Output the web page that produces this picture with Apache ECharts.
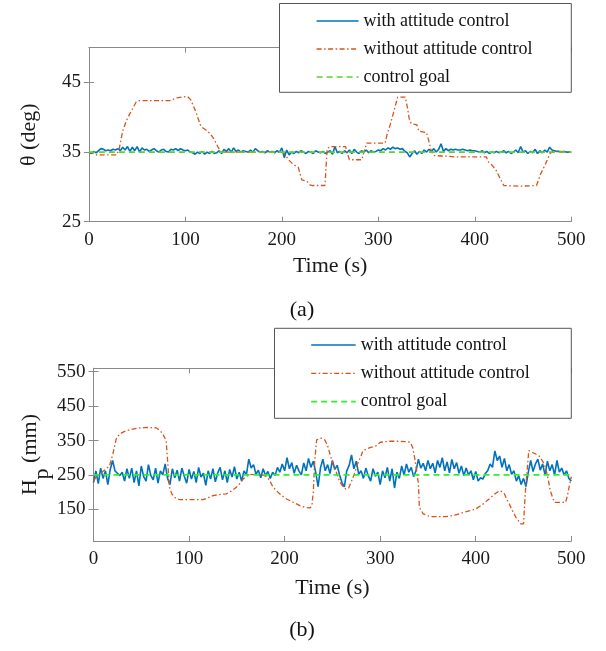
<!DOCTYPE html>
<html>
<head>
<meta charset="utf-8">
<script src="https://cdn.jsdelivr.net/npm/echarts@6/dist/echarts.min.js"></script>
<style>html,body{margin:0;padding:0;background:#fff}#c{width:606px;height:651px}</style>
</head>
<body>
<div id="c"></div>
<script>
// ---------- data ----------
const timeTicks = [0, 100, 200, 300, 400, 500];
const thetaTicks = [25, 35, 45];
const hpTicks = [150, 250, 350, 450, 550];
const legendNames = ['with attitude control', 'without attitude control', 'control goal'];
const thetaGoal = 35;
const hpGoal = 250;
const sampleStep = 2.5; // s, sampling of the "with attitude control" traces

// theta (deg), with attitude control, one value every 2.5 s from 0 to 500
const thetaWith = [
35.0,34.8,35.1,34.9,35.2,35.5,35.4,35.2,35.3,35.2,35.4,35.3,35.5,35.2,35.7,35.3,35.8,35.1,35.7,35.2,
35.8,35.0,35.6,35.3,35.4,35.1,35.3,35.5,35.2,35.0,35.3,35.4,35.1,35.0,35.4,35.3,35.5,35.2,35.5,35.3,
35.2,35.3,35.0,34.9,34.7,35.0,34.8,35.1,34.7,35.0,34.8,35.1,34.8,34.9,35.2,34.8,35.4,35.1,35.5,35.0,
35.6,35.1,35.3,35.0,35.2,35.1,35.0,35.3,35.0,35.5,35.2,35.0,35.1,34.9,35.2,35.0,35.1,34.9,35.2,35.0,
35.6,34.2,35.3,34.6,35.0,34.8,35.1,34.9,35.2,35.0,34.8,35.1,35.0,34.8,35.2,35.0,34.9,35.1,34.8,35.0,
35.2,34.7,35.8,34.9,35.1,34.8,35.2,34.9,35.3,34.8,35.4,35.0,34.8,35.2,35.0,35.3,34.9,35.2,35.0,35.1,
35.3,35.2,35.5,35.3,35.6,35.4,35.7,35.5,35.6,35.4,35.5,35.1,34.9,34.3,34.8,35.2,34.7,35.1,34.8,35.3,
35.0,35.4,35.1,35.5,35.0,35.4,36.2,35.1,35.5,35.2,35.4,35.3,35.4,35.3,35.3,35.4,35.3,35.2,35.3,35.2,
35.2,35.1,35.0,35.2,34.9,35.1,34.8,35.0,34.9,35.1,34.9,35.0,35.2,34.9,35.1,34.8,35.0,35.3,34.9,35.8,
35.0,35.2,34.8,35.1,34.9,35.4,34.8,35.2,34.9,35.3,35.0,35.7,35.3,35.2,35.1,35.1,35.0,35.1,35.0,35.0,
35.0
];

// theta (deg), without attitude control
const thetaWithoutT = [0,3,6,9.7,12,28.8,31.6,35,38.5,42,45.5,49,52,84,91,102,105.6,110.8,116,121,126,130,133.5,137,170,201.5,207,212,217,220.6,226,229,232,244.7,245.8,247,250,266,268,270,283,285,288,307,309,312,316,320,322,328,330,332,334,340,342,350,352,354,356,358,372,380,412,414,418,422,427,430,446,464,468,473,478,481,490,500];
const thetaWithoutV = [35.0,34.9,34.7,34.5,34.6,34.6,35.6,38.0,39.4,40.4,41.3,42.2,42.4,42.4,42.8,43.0,42.5,40.8,38.7,38.2,37.6,36.8,35.8,35.0,35.0,35.0,33.9,33.2,32.8,31.0,30.8,30.3,30.2,30.2,32.9,35.5,35.8,35.8,34.8,33.9,33.9,35.0,36.3,36.3,37.5,38.8,40.8,42.9,43.0,42.9,41.5,39.8,39.1,38.9,38.0,37.8,36.8,35.6,34.8,34.5,34.4,34.3,34.3,33.6,33.1,32.4,31.0,30.2,30.1,30.2,31.8,33.2,34.8,35.1,35.1,35.0];

// Hp (mm), with attitude control, one value every 2.5 s from 0 to 500
const hpWith = [
228,262,225,270,240,262,222,266,292,262,255,248,258,232,268,240,270,228,262,218,
276,245,232,280,248,236,270,226,262,250,282,240,222,268,242,264,232,270,246,226,
266,238,260,228,272,244,255,220,262,238,268,230,256,272,236,262,228,266,244,274,
238,258,232,262,250,296,270,280,252,264,242,268,248,260,240,258,248,272,258,282,
262,300,268,286,255,278,262,250,285,262,298,272,290,258,216,270,296,262,280,254,
292,266,278,250,228,215,262,278,308,268,290,252,262,240,270,248,232,268,246,258,
222,262,242,272,232,268,212,258,240,276,250,282,258,272,245,262,296,270,284,262,
292,268,284,256,292,272,300,262,288,256,295,268,286,255,276,248,270,250,262,236,
260,232,242,238,254,262,282,272,320,292,305,272,298,262,280,252,262,232,248,222,
240,216,258,292,260,282,296,264,282,250,290,262,280,250,292,258,270,250,262,240,
232
];

// Hp (mm), without attitude control
const hpWithoutT = [0,3,6.6,12,16.8,20.3,23.8,27.3,32,37.7,48.2,58,65.6,70,72.5,76,77.8,79.5,82,84.8,90,114.5,120,125,132,139,144,149.5,153,156.5,160,164,172,178,182,185,188,193,197,202,208,216,221,226.5,228.5,230,231.5,233.5,238,242,245,248,251,254.5,257,260,264,267,270,273,276,280,282,290,296,300,310,318,326,331.5,334,336,338,340,341,345,352,369,378,387,394,400,407,414,420,425,428,430,432,435,438,442,447,450,452,454,455.5,459,466,470,473,476,478,481,483,494,496,497.6,500];
const hpWithoutV = [232,245,253,265,277,311,355,369,376,381,387,388,387,378,369,350,282,214,195,185,178,178,184,190,193,195,203,214,225,238,246,251,252,249,243,230,214,200,190,180,172,161,156,154,160,200,290,352,357,352,335,305,280,255,235,220,209,212,232,253,280,306,321,330,335,345,348,348,347,345,330,301,265,224,156,137,129,129,133,141,146,151,164,180,195,204,201,195,182,166,148,127,108,108,204,270,321,316,306,290,272,235,204,180,170,170,190,214,245];

// ---------- helpers (build pairs from the arrays) ----------
const sampled = vals => vals.map((v, i) => [i * sampleStep, v]);
const paired = (ts, vs) => ts.map((t, i) => [t, vs[i]]);
const goalLine = g => [[timeTicks[0], g], [timeTicks[timeTicks.length - 1], g]];

// ---------- style ----------
const FONT = "'Liberation Serif', 'Times New Roman', serif";
const BLUE = '#0072BD', ORANGE = '#D95319', GREEN_A = '#5fd12a', GREEN_B = '#2cf22c';
const AXIS_C = '#8a8a8a';
const DASHDOT = [5, 2.5, 1.5, 2.5];

function xAxes(gridIndex) {
  const common = { type: 'value', gridIndex, min: 0, max: 500, interval: 100,
    splitLine: { show: false }, axisLine: { lineStyle: { color: AXIS_C, width: 1 } },
    axisTick: { inside: true, length: 5, lineStyle: { color: AXIS_C } } };
  return [
    Object.assign({}, common, { position: 'bottom',
      axisLabel: { color: '#1a1a1a', fontFamily: FONT, fontSize: 19, margin: 9 },
      name: 'Time (s)', nameLocation: 'middle', nameGap: gridIndex === 0 ? 34 : 36, nameMoveOverlap: false,
      nameTextStyle: { color: '#1a1a1a', fontFamily: FONT, fontSize: 22 } }),
    Object.assign({}, common, { position: 'top', axisLabel: { show: false } })
  ];
}
function yAxes(gridIndex, min, max, ticks, nameOpts) {
  const common = { type: 'value', gridIndex, min, max,
    splitLine: { show: false }, axisLine: { show: true, lineStyle: { color: AXIS_C, width: 1 } },
    axisTick: { show: true, inside: true, length: 5, customValues: ticks, lineStyle: { color: AXIS_C } } };
  return [
    Object.assign({}, common, { position: 'left', nameMoveOverlap: false,
      axisLabel: { color: '#1a1a1a', fontFamily: FONT, fontSize: 19, margin: 8, customValues: ticks } }, nameOpts),
    Object.assign({}, common, { position: 'right', axisLabel: { show: false } })
  ];
}
function legendFor(left, top, itemWidth, gap, goalColor) {
  const hide = { opacity: 0, color: 'transparent', borderWidth: 0 };
  return {
    orient: 'vertical', left, top, z: 60, padding: 0, itemWidth, itemHeight: 18, itemGap: gap,
    selectedMode: false, backgroundColor: 'transparent',
    textStyle: { fontFamily: FONT, fontSize: 18, color: '#111' },
    data: [
      { name: legendNames[0], lineStyle: { color: BLUE, width: 1.6, type: 'solid', opacity: 1 }, itemStyle: hide },
      { name: legendNames[1], lineStyle: { color: ORANGE, width: 1.3, type: DASHDOT, opacity: 1 }, itemStyle: hide },
      { name: legendNames[2], lineStyle: { color: goalColor, width: 1.6, type: [6, 4], opacity: 1 }, itemStyle: hide }
    ]
  };
}
function lineSeries(name, data, xi, yi, color, width, type, z) {
  return { type: 'line', name, data, xAxisIndex: xi, yAxisIndex: yi, symbol: 'none', showSymbol: false,
    z, clip: true, animation: false,
    lineStyle: { color, width, type }, itemStyle: { color } };
}

const chart = echarts.init(document.getElementById('c'), null, { renderer: 'canvas' });
chart.setOption({
  animation: false,
  backgroundColor: '#fff',
  grid: [
    { left: 88.9, right: 34.7, top: 47.7, height: 174, outerBoundsMode: 'none' },
    { left: 93.5, right: 34.7, top: 368.3, height: 172.7, outerBoundsMode: 'none' }
  ],
  xAxis: [...xAxes(0), ...xAxes(1)],
  yAxis: [
    ...yAxes(0, 25, 50, thetaTicks, { name: 'θ (deg)', nameLocation: 'middle', nameRotate: 90, nameGap: 49,
      nameTextStyle: { color: '#1a1a1a', fontFamily: FONT, fontSize: 22 } }),
    ...yAxes(1, 58, 560, hpTicks, { name: '{m|H}{s|p}{m| (mm)}', nameLocation: 'middle', nameRotate: 90, nameGap: 52,
      nameTextStyle: { color: '#1a1a1a', fontFamily: FONT, fontSize: 22,
        rich: {
          m: { fontFamily: FONT, fontSize: 22, color: '#1a1a1a', lineHeight: 22, verticalAlign: 'top' },
          s: { fontFamily: FONT, fontSize: 22, color: '#1a1a1a', lineHeight: 22, verticalAlign: 'top', padding: [12, 0, 0, 0] }
        } } })
  ],
  legend: [
    legendFor(315.8, 12, 42, 10, GREEN_A),
    legendFor(310.4, 336, 44.5, 10.3, GREEN_B)
  ],
  graphic: [
    { type: 'rect', z: 50, shape: { x: 279.5, y: 3.5, width: 291.8, height: 88.8 },
      style: { fill: '#fff', stroke: '#555', lineWidth: 1 } },
    { type: 'rect', z: 50, shape: { x: 274.5, y: 328.3, width: 296.8, height: 90 },
      style: { fill: '#fff', stroke: '#555', lineWidth: 1 } },
    { type: 'text', z: 50, x: 302, y: 310, style: { text: '(a)', font: "22px 'Liberation Serif', serif", fill: '#111', align: 'center', verticalAlign: 'middle' } },
    { type: 'text', z: 50, x: 302, y: 630, style: { text: '(b)', font: "22px 'Liberation Serif', serif", fill: '#111', align: 'center', verticalAlign: 'middle' } }
  ],
  series: [
    lineSeries(legendNames[0], sampled(thetaWith), 0, 0, BLUE, 1.6, 'solid', 2),
    lineSeries(legendNames[1], paired(thetaWithoutT, thetaWithoutV), 0, 0, ORANGE, 1.3, DASHDOT, 3),
    lineSeries(legendNames[2], goalLine(thetaGoal), 0, 0, GREEN_A, 1.6, [6, 4], 4),
    lineSeries(legendNames[0], sampled(hpWith), 2, 2, BLUE, 1.6, 'solid', 2),
    lineSeries(legendNames[1], paired(hpWithoutT, hpWithoutV), 2, 2, ORANGE, 1.3, DASHDOT, 3),
    lineSeries(legendNames[2], goalLine(hpGoal), 2, 2, GREEN_B, 1.8, [6, 4], 4)
  ]
});
</script>
</body>
</html>
